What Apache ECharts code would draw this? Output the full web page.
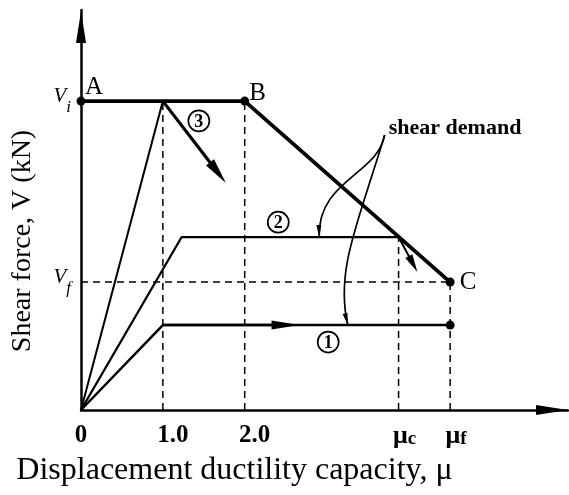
<!DOCTYPE html>
<html>
<head>
<meta charset="utf-8">
<script src="https://cdn.jsdelivr.net/npm/echarts@6/dist/echarts.min.js"></script>
<style>
  html, body { margin: 0; padding: 0; background: #fff; }
  #chart { width: 569px; height: 495px; }
</style>
</head>
<body>
<div id="chart"></div>
<script>
// Key ductility (x) and shear (y) values
const muC = 3.88;
const muF = 4.51;
const Vi = 100;
const Vf = 41.4;

// Axis tick values and their texts
const xTicks = [0, 1.0, 2.0, muC, muF];
const xTickText = ['0', '1.0', '2.0', 'μc', 'μf'];
const yTicks = [Vf, Vi];
const yTickText = ['Vf', 'Vi'];

// Shear capacity envelope A – B – C
const capacity = [[0, Vi], [2.0, Vi], [muF, Vf]];
const pointNames = ['A', 'B', 'C'];

// Shear demand paths
const demand1 = [[0, 0], [1.0, 27.5], [muF, 27.5]];
const demand2 = [[0, 0], [1.23, 56], [muC, 56]];
const demand3 = [[0, 0], [1.0, Vi]];

// Arrowed segments: [from, to]
const demand3Drop = [[1.0, Vi], [1.77, 73.5]];
const demand2Drop = [[muC, 56], [4.11, 44.7]];
const demand1Head = [[1.0, 27.5], [2.67, 27.5]];

// Dashed guide lines
const guides = [
  [[1.0, 0], [1.0, Vi]],
  [[2.0, 0], [2.0, Vi]],
  [[muC, 0], [muC, 56]],
  [[muF, 0], [muF, Vf]],
  [[0, Vf], [muF, Vf]]
];

// Leader curves from the "shear demand" note (cubic Bézier points)
const leaderTo2 = [[3.71, 89.0], [3.62, 76.1], [2.89, 74.4], [2.91, 56]];
const leaderTo1 = [[3.71, 89.0], [3.40, 61.5], [3.10, 45.3], [3.26, 27.5]];
const noteText = 'shear demand';
const noteAt = [3.76, 91.3];

// Circled path numbers
const pathNumbers = ['3', '2', '1'];
const pathNumberAt = [[1.44, 93.6], [2.41, 60.8], [3.02, 22.0]];

const SERIF = '"Liberation Serif", "DejaVu Serif", serif';
const INK = '#000';

const chart = echarts.init(document.getElementById('chart'));

function arrowSeries(segments, lineWidth, headLen, headWidth, z) {
  return {
    type: 'custom',
    coordinateSystem: 'cartesian2d',
    clip: false,
    silent: true,
    z: z || 5,
    data: segments.map(s => [s[0][0], s[0][1], s[1][0], s[1][1]]),
    encode: { x: [0, 2], y: [1, 3] },
    renderItem(params, api) {
      const a = api.coord([api.value(0), api.value(1)]);
      const b = api.coord([api.value(2), api.value(3)]);
      const dx = b[0] - a[0], dy = b[1] - a[1];
      const L = Math.hypot(dx, dy) || 1;
      const ux = dx / L, uy = dy / L;
      const bx = b[0] - ux * headLen, by = b[1] - uy * headLen;
      const nx = -uy * headWidth / 2, ny = ux * headWidth / 2;
      return {
        type: 'group',
        children: [
          { type: 'line', shape: { x1: a[0], y1: a[1], x2: bx + ux * 3, y2: by + uy * 3 },
            style: { stroke: INK, lineWidth: lineWidth } },
          { type: 'polygon', shape: { points: [[b[0], b[1]], [bx + nx, by + ny], [bx - nx, by - ny]] },
            style: { fill: INK } }
        ]
      };
    }
  };
}

function leaderSeries(curves) {
  return {
    type: 'custom',
    coordinateSystem: 'cartesian2d',
    clip: false,
    silent: true,
    z: 6,
    data: curves.map(c => [].concat(...c)),
    encode: { x: [0, 2, 4, 6], y: [1, 3, 5, 7] },
    renderItem(params, api) {
      const p = [0, 1, 2, 3].map(i => api.coord([api.value(2 * i), api.value(2 * i + 1)]));
      const dx = p[3][0] - p[2][0], dy = p[3][1] - p[2][1];
      const L = Math.hypot(dx, dy) || 1;
      const ux = dx / L, uy = dy / L;
      const headLen = 12, headWidth = 5;
      const bx = p[3][0] - ux * headLen, by = p[3][1] - uy * headLen;
      const nx = -uy * headWidth / 2, ny = ux * headWidth / 2;
      return {
        type: 'group',
        children: [
          { type: 'bezierCurve',
            shape: { x1: p[0][0], y1: p[0][1], cpx1: p[1][0], cpy1: p[1][1],
                     cpx2: p[2][0], cpy2: p[2][1], x2: p[3][0], y2: p[3][1] },
            style: { stroke: INK, lineWidth: 1.7, fill: null } },
          { type: 'polygon', shape: { points: [[p[3][0], p[3][1]], [bx + nx, by + ny], [bx - nx, by - ny]] },
            style: { fill: INK } }
        ]
      };
    }
  };
}

const series = [];

// dashed guides
guides.forEach(g => {
  series.push({
    type: 'line',
    data: g,
    symbol: 'none',
    silent: true,
    z: 2,
    lineStyle: { color: INK, width: 1.5, type: [7, 5] }
  });
});

// demand paths
series.push({
  type: 'line', data: demand3, symbol: 'none', silent: true, z: 3,
  lineStyle: { color: INK, width: 2 }
});
series.push({
  type: 'line', data: demand2, symbol: 'none', silent: true, z: 3,
  lineStyle: { color: INK, width: 2.3 }
});
series.push({
  type: 'line', data: demand1, silent: true, z: 3,
  symbol: (v, p) => (p.dataIndex === demand1.length - 1 ? 'circle' : 'none'),
  symbolSize: 9,
  itemStyle: { color: INK },
  lineStyle: { color: INK, width: 2.5 }
});

// capacity envelope with labelled corners
const cornerOffsets = [[13, -14], [13, -8], [18, 0]];
series.push({
  type: 'line',
  silent: true,
  z: 8,
  data: capacity.map((v, i) => ({
    value: v,
    label: { formatter: pointNames[i], offset: cornerOffsets[i] }
  })),
  symbol: 'circle',
  symbolSize: 9,
  itemStyle: { color: INK },
  lineStyle: { color: INK, width: 3.8 },
  label: { show: true, position: 'inside', color: INK, fontFamily: SERIF, fontSize: 25 }
});

// arrows
series.push(arrowSeries([demand3Drop], 3.2, 26, 10, 7));
series.push(arrowSeries([demand2Drop], 2, 18, 8, 7));
series.push(arrowSeries([demand1Head], 2.5, 28, 9, 7));

// leader curves
series.push(leaderSeries([leaderTo2, leaderTo1]));

// note text
series.push({
  type: 'custom',
  coordinateSystem: 'cartesian2d',
  silent: true,
  clip: false,
  z: 9,
  data: [[noteAt[0], noteAt[1]]],
  renderItem(params, api) {
    const c = api.coord([api.value(0), api.value(1)]);
    return {
      type: 'text', x: c[0], y: c[1],
      style: { text: noteText, fill: INK, font: 'bold 22px ' + SERIF,
               align: 'left', verticalAlign: 'middle' }
    };
  }
});

// circled path numbers
series.push({
  type: 'custom',
  coordinateSystem: 'cartesian2d',
  silent: true,
  clip: false,
  z: 9,
  data: pathNumberAt.map((p, i) => [p[0], p[1], i]),
  renderItem(params, api) {
    const c = api.coord([api.value(0), api.value(1)]);
    const txt = pathNumbers[api.value(2)];
    return {
      type: 'group',
      children: [
        { type: 'circle', shape: { cx: c[0], cy: c[1], r: 10.5 },
          style: { stroke: INK, lineWidth: 1.7, fill: '#fff' } },
        { type: 'text', x: c[0], y: c[1] + 1,
          style: { text: txt, fill: INK, font: 'bold 18px ' + SERIF,
                   align: 'center', verticalAlign: 'middle' } }
      ]
    };
  }
});

const axisArrow = 'path://M5,0 L10,32 L0,32 Z';

chart.setOption({
  animation: false,
  backgroundColor: '#fff',
  grid: { left: 81, right: 1, top: 10, bottom: 85, containLabel: false },
  xAxis: {
    type: 'value',
    min: 0,
    max: 5.95,
    name: 'Displacement ductility capacity, μ',
    nameLocation: 'middle',
    nameGap: 45,
    nameTextStyle: { color: INK, fontFamily: SERIF, fontSize: 32, padding: [0, 180, 0, 0] },
    axisLine: {
      show: true,
      symbol: ['none', axisArrow],
      symbolSize: [10, 32],
      symbolOffset: [0, -16],
      lineStyle: { color: INK, width: 2.5 }
    },
    axisTick: { show: false },
    splitLine: { show: false },
    axisLabel: {
      customValues: xTicks,
      margin: 13,
      color: INK,
      formatter: (v) => {
        const i = xTicks.findIndex(t => Math.abs(t - v) < 1e-6);
        const t = xTickText[i];
        if (t === '0') return '{n|0}';
        if (t.startsWith('μ')) return '{m|μ}{s|' + t.slice(1) + '}';
        return '{d|' + t + '}';
      },
      rich: {
        n: { fontFamily: SERIF, fontSize: 25, fontWeight: 'bold', color: INK },
        d: { fontFamily: SERIF, fontSize: 25, fontWeight: 'bold', color: INK, padding: [0, 0, 0, 20] },
        m: { fontFamily: SERIF, fontSize: 26, fontWeight: 'bold', color: INK, padding: [0, 0, 0, 12], verticalAlign: 'top', lineHeight: 26 },
        s: { fontFamily: SERIF, fontSize: 19, fontWeight: 'bold', color: INK, verticalAlign: 'bottom', lineHeight: 26 }
      }
    }
  },
  yAxis: {
    type: 'value',
    min: 0,
    max: 129.5,
    name: 'Shear force, V (kN)',
    nameLocation: 'middle',
    nameRotate: 90,
    nameGap: 44,
    nameTextStyle: { color: INK, fontFamily: SERIF, fontSize: 28, padding: [0, 62, 0, 0] },
    axisLine: {
      show: true,
      symbol: ['none', axisArrow],
      symbolSize: [10, 34],
      symbolOffset: [0, -17],
      lineStyle: { color: INK, width: 2.5 }
    },
    axisTick: { show: false },
    splitLine: { show: false },
    axisLabel: {
      customValues: yTicks,
      margin: 10,
      color: INK,
      formatter: (v) => {
        const i = yTicks.findIndex(t => Math.abs(t - v) < 1e-6);
        return '{v|V}{s|' + yTickText[i].slice(1) + '}';
      },
      rich: {
        v: { fontFamily: SERIF, fontStyle: 'italic', fontSize: 21, color: INK, verticalAlign: 'top', lineHeight: 30 },
        s: { fontFamily: SERIF, fontStyle: 'italic', fontSize: 17, color: INK, verticalAlign: 'bottom', lineHeight: 30 }
      }
    }
  },
  series: series
});
</script>
</body>
</html>
